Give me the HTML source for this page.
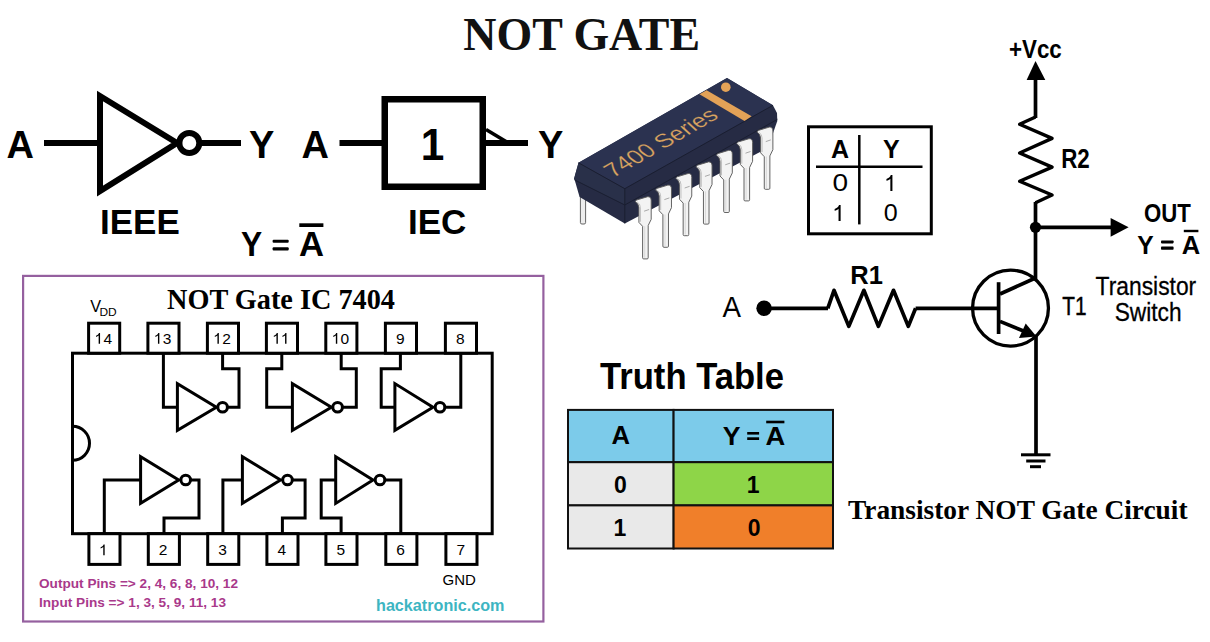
<!DOCTYPE html>
<html><head><meta charset="utf-8"><title>NOT Gate</title>
<style>
html,body{margin:0;padding:0;background:#fff;width:1210px;height:642px;overflow:hidden}
svg{display:block}
.s{font-family:"Liberation Sans",sans-serif}
.sf{font-family:"Liberation Serif",serif}
</style></head><body>
<svg width="1210" height="642" viewBox="0 0 1210 642">
<rect width="1210" height="642" fill="#fff"/>
<text class="sf" transform="translate(463.29,49.6) scale(1.0091,1)" font-size="45.5" font-weight="bold" fill="#111">NOT GATE</text>
<g stroke="#000" fill="none" stroke-width="6">
  <line x1="44" y1="143" x2="100" y2="143"/>
  <path d="M100,96 L100,191 L177,143 Z" stroke-linejoin="miter"/>
  <circle cx="189.3" cy="143" r="10"/>
  <line x1="199" y1="143" x2="241" y2="143"/>
</g>
<text class="s" x="6.5" y="157.5" font-size="38" font-weight="bold">A</text>
<text class="s" x="249" y="157.5" font-size="38" font-weight="bold">Y</text>
<text class="s" x="100" y="234" font-size="35" font-weight="bold">IEEE</text>
<g stroke="#000" fill="none">
  <line x1="339.5" y1="143" x2="385" y2="143" stroke-width="6"/>
  <rect x="384.75" y="99.25" width="98" height="87.5" stroke-width="6.5"/>
  <line x1="483" y1="143" x2="528" y2="143" stroke-width="6"/>
  <line x1="486" y1="129.5" x2="506" y2="141.5" stroke-width="3.6"/>
</g>
<text class="s" x="301.5" y="157.5" font-size="38" font-weight="bold">A</text>
<text class="s" x="538" y="157.5" font-size="38" font-weight="bold">Y</text>
<text class="s" transform="translate(420.84,159.9) scale(0.9524,1)" font-size="44.5" font-weight="bold">1</text>
<text class="s" x="408" y="234" font-size="35" font-weight="bold">IEC</text>
<text class="s" transform="translate(241.12,255.9) scale(0.8818,1)" font-size="36" font-weight="bold">Y</text>
<rect x="272.6" y="239.8" width="16.1" height="3" rx="1" fill="#000"/><rect x="272.6" y="247.3" width="16.1" height="3.1" rx="1" fill="#000"/>
<text class="s" transform="translate(298.94,255.9) scale(0.9625,1)" font-size="36" font-weight="bold">A</text>
<rect x="299.3" y="223.3" width="24.1" height="3.7" fill="#000"/>
<path d="M580.4,196 L585.6,196 L585.6,222.5 Q585.6,224 584.1,224 L581.9,224 Q580.4,224 580.4,222.5 Z" fill="#ededed" stroke="#555" stroke-width="0.9"/>
<path d="M578.5,162.8 L727,78 L772.9,105.3 L777,113 L777.3,121 L772,136 L760,152 L624.8,223.4 L579.6,197 L574.2,178.3 Z" fill="#262b44"/>
<path d="M578.5,162.8 L727,78 L772.9,105.3 L624.8,188.7 Z" fill="#2b3250"/>
<path d="M578.5,162.8 L624.8,188.7 L624.8,205 L574.6,179.9 L574.2,178.3 Z" fill="#293049"/>
<g fill="none" stroke="#1a1e30" stroke-width="1" stroke-linejoin="round"><path d="M574.6,179.9 L624.8,205 L777.3,119.4"/><path d="M578.5,162.8 L624.8,188.7 L772.9,105.3"/><path d="M624.8,188.7 L624.8,223.4"/></g>
<path d="M699.5,94.3 L706.6,90.2 L751.6,116.2 L744.5,121.1 Z" fill="#e3a257"/>
<circle cx="725.8" cy="87.2" r="4.8" fill="#e3a257"/>
<text font-family="Liberation Sans" font-size="23" fill="#dba560" stroke="#2c3250" stroke-width="0.2" transform="matrix(0.869,-0.494,0.743,0.669,613.2,177.9)">7400 Series</text>
<g transform="translate(648.60,196.70)"><path d="M-13.2,5 C-12.6,3.6 -12.2,3.2 -11.3,3.1 L-1,0 Q2.6,-0.3 2.6,3.9 L2.6,22.6 L-0.4,28.8 L-0.4,61.1 Q-0.4,62.2 -1.5,62.2 L-4.9,62.2 Q-6,62.2 -6,61.1 L-6,29.6 L-9.7,25.7 L-9.7,10.9 Q-10,7 -13.2,5 Z" fill="#f3f3f3" stroke="#5c5c5c" stroke-width="0.95"/><path d="M-11.5,5.2 Q-8.2,7 -8.2,11 L-8.2,25" fill="none" stroke="#9a9a9a" stroke-width="0.6"/><path d="M-4.5,14.5 L0.5,12.8" stroke="#888" stroke-width="0.7"/><path d="M-3.9,29.5 L-3.9,61" stroke="#c8c8c8" stroke-width="0.6"/></g>
<g transform="translate(668.88,185.10)"><path d="M-13.2,5 C-12.6,3.6 -12.2,3.2 -11.3,3.1 L-1,0 Q2.6,-0.3 2.6,3.9 L2.6,22.6 L-0.4,28.8 L-0.4,61.1 Q-0.4,62.2 -1.5,62.2 L-4.9,62.2 Q-6,62.2 -6,61.1 L-6,29.6 L-9.7,25.7 L-9.7,10.9 Q-10,7 -13.2,5 Z" fill="#f3f3f3" stroke="#5c5c5c" stroke-width="0.95"/><path d="M-11.5,5.2 Q-8.2,7 -8.2,11 L-8.2,25" fill="none" stroke="#9a9a9a" stroke-width="0.6"/><path d="M-4.5,14.5 L0.5,12.8" stroke="#888" stroke-width="0.7"/><path d="M-3.9,29.5 L-3.9,61" stroke="#c8c8c8" stroke-width="0.6"/></g>
<g transform="translate(689.16,173.50)"><path d="M-13.2,5 C-12.6,3.6 -12.2,3.2 -11.3,3.1 L-1,0 Q2.6,-0.3 2.6,3.9 L2.6,22.6 L-0.4,28.8 L-0.4,61.1 Q-0.4,62.2 -1.5,62.2 L-4.9,62.2 Q-6,62.2 -6,61.1 L-6,29.6 L-9.7,25.7 L-9.7,10.9 Q-10,7 -13.2,5 Z" fill="#f3f3f3" stroke="#5c5c5c" stroke-width="0.95"/><path d="M-11.5,5.2 Q-8.2,7 -8.2,11 L-8.2,25" fill="none" stroke="#9a9a9a" stroke-width="0.6"/><path d="M-4.5,14.5 L0.5,12.8" stroke="#888" stroke-width="0.7"/><path d="M-3.9,29.5 L-3.9,61" stroke="#c8c8c8" stroke-width="0.6"/></g>
<g transform="translate(709.44,161.90)"><path d="M-13.2,5 C-12.6,3.6 -12.2,3.2 -11.3,3.1 L-1,0 Q2.6,-0.3 2.6,3.9 L2.6,22.6 L-0.4,28.8 L-0.4,61.1 Q-0.4,62.2 -1.5,62.2 L-4.9,62.2 Q-6,62.2 -6,61.1 L-6,29.6 L-9.7,25.7 L-9.7,10.9 Q-10,7 -13.2,5 Z" fill="#f3f3f3" stroke="#5c5c5c" stroke-width="0.95"/><path d="M-11.5,5.2 Q-8.2,7 -8.2,11 L-8.2,25" fill="none" stroke="#9a9a9a" stroke-width="0.6"/><path d="M-4.5,14.5 L0.5,12.8" stroke="#888" stroke-width="0.7"/><path d="M-3.9,29.5 L-3.9,61" stroke="#c8c8c8" stroke-width="0.6"/></g>
<g transform="translate(729.72,150.30)"><path d="M-13.2,5 C-12.6,3.6 -12.2,3.2 -11.3,3.1 L-1,0 Q2.6,-0.3 2.6,3.9 L2.6,22.6 L-0.4,28.8 L-0.4,61.1 Q-0.4,62.2 -1.5,62.2 L-4.9,62.2 Q-6,62.2 -6,61.1 L-6,29.6 L-9.7,25.7 L-9.7,10.9 Q-10,7 -13.2,5 Z" fill="#f3f3f3" stroke="#5c5c5c" stroke-width="0.95"/><path d="M-11.5,5.2 Q-8.2,7 -8.2,11 L-8.2,25" fill="none" stroke="#9a9a9a" stroke-width="0.6"/><path d="M-4.5,14.5 L0.5,12.8" stroke="#888" stroke-width="0.7"/><path d="M-3.9,29.5 L-3.9,61" stroke="#c8c8c8" stroke-width="0.6"/></g>
<g transform="translate(750.00,138.70)"><path d="M-13.2,5 C-12.6,3.6 -12.2,3.2 -11.3,3.1 L-1,0 Q2.6,-0.3 2.6,3.9 L2.6,22.6 L-0.4,28.8 L-0.4,61.1 Q-0.4,62.2 -1.5,62.2 L-4.9,62.2 Q-6,62.2 -6,61.1 L-6,29.6 L-9.7,25.7 L-9.7,10.9 Q-10,7 -13.2,5 Z" fill="#f3f3f3" stroke="#5c5c5c" stroke-width="0.95"/><path d="M-11.5,5.2 Q-8.2,7 -8.2,11 L-8.2,25" fill="none" stroke="#9a9a9a" stroke-width="0.6"/><path d="M-4.5,14.5 L0.5,12.8" stroke="#888" stroke-width="0.7"/><path d="M-3.9,29.5 L-3.9,61" stroke="#c8c8c8" stroke-width="0.6"/></g>
<g transform="translate(770.28,127.10)"><path d="M-13.2,5 C-12.6,3.6 -12.2,3.2 -11.3,3.1 L-1,0 Q2.6,-0.3 2.6,3.9 L2.6,22.6 L-0.4,28.8 L-0.4,61.1 Q-0.4,62.2 -1.5,62.2 L-4.9,62.2 Q-6,62.2 -6,61.1 L-6,29.6 L-9.7,25.7 L-9.7,10.9 Q-10,7 -13.2,5 Z" fill="#f3f3f3" stroke="#5c5c5c" stroke-width="0.95"/><path d="M-11.5,5.2 Q-8.2,7 -8.2,11 L-8.2,25" fill="none" stroke="#9a9a9a" stroke-width="0.6"/><path d="M-4.5,14.5 L0.5,12.8" stroke="#888" stroke-width="0.7"/><path d="M-3.9,29.5 L-3.9,61" stroke="#c8c8c8" stroke-width="0.6"/></g>
<g stroke="#000" fill="none">
  <rect x="808.5" y="126.8" width="122.8" height="107" stroke-width="3"/>
  <line x1="859.3" y1="135" x2="859.3" y2="224.4" stroke-width="2.5"/>
  <line x1="816" y1="166.7" x2="922.5" y2="166.7" stroke-width="2.5"/>
</g>
<text class="s" x="831" y="158.4" font-size="25" font-weight="bold">A</text>
<text class="s" x="883" y="158.4" font-size="25" font-weight="bold">Y</text>
<text class="s" transform="translate(832.38,190.9) scale(1.2182,1)" font-size="23">0</text>
<path transform="translate(884.60,190.9) scale(23)" d="M0.25,0 L0.34,0 L0.34,-0.69 L0.27,-0.69 C0.24,-0.60 0.17,-0.55 0.08,-0.52 L0.08,-0.44 C0.15,-0.46 0.21,-0.49 0.25,-0.53 Z" fill="#000"/>
<path transform="translate(832.80,220.9) scale(23)" d="M0.25,0 L0.34,0 L0.34,-0.69 L0.27,-0.69 C0.24,-0.60 0.17,-0.55 0.08,-0.52 L0.08,-0.44 C0.15,-0.46 0.21,-0.49 0.25,-0.53 Z" fill="#000"/>
<text class="s" transform="translate(883.71,220.9) scale(1.0909,1)" font-size="23">0</text>
<g stroke="#000" fill="none" stroke-width="3.7" stroke-linejoin="miter">
  <line x1="1035.5" y1="78" x2="1035.5" y2="118"/>
  <polyline stroke-width="3.4" stroke-linejoin="round" points="1035.5,117 1019.6,124.2 1052.1,138.4 1019.6,153 1052.1,167.1 1019.6,181.3 1052.1,195 1035.5,202.7"/>
  <line x1="1035.5" y1="202" x2="1035.5" y2="279"/>
  <line x1="1035.5" y1="227.3" x2="1112" y2="227.3"/>
  <line x1="764" y1="308.3" x2="828" y2="308.3"/>
  <polyline stroke-linejoin="round" points="827.8,308.3 834,290.3 848.8,326.4 863.9,290.3 878.4,326.4 893.5,290.3 908.3,326.4 915.6,308.3"/>
  <line x1="915.6" y1="308.3" x2="998" y2="308.3"/>
  <circle cx="1010.5" cy="308.1" r="37.95" stroke-width="3.3"/>
  <line x1="998.6" y1="282.2" x2="998.6" y2="334" stroke-width="3.7"/>
  <line x1="1000" y1="294" x2="1036" y2="277.8"/>
  <line x1="1000" y1="321.4" x2="1028" y2="332.8"/>
  <line x1="1036" y1="336" x2="1036" y2="455"/>
  <line x1="1021" y1="454.8" x2="1050.5" y2="454.8" stroke-width="3"/>
  <line x1="1026.2" y1="461" x2="1045.5" y2="461" stroke-width="3"/>
  <line x1="1030" y1="466.7" x2="1041" y2="466.7" stroke-width="3"/>
</g>
<path d="M1035.5,61 L1045.3,80 L1026.6,80 Z" fill="#000"/>
<path d="M1128.6,227.3 L1110.6,236.7 L1110.6,218 Z" fill="#000"/>
<path d="M1036.5,336.4 L1019,337.9 L1025.7,323.4 Z" fill="#000"/>
<circle cx="1035.5" cy="227.3" r="5.6" fill="#000"/>
<circle cx="764.1" cy="308.3" r="7.75" fill="#000"/>
<text class="s" transform="translate(1008.91,57.6) scale(0.8947,1)" font-size="25" font-weight="bold">+Vcc</text>
<text class="s" transform="translate(1061.24,168.1) scale(0.8281,1)" font-size="27" font-weight="bold">R2</text>
<text class="s" transform="translate(1143.95,221.5) scale(0.8537,1)" font-size="26" font-weight="bold">OUT</text>
<text class="s" transform="translate(1137.25,253.5) scale(0.9500,1)" font-size="26" font-weight="bold">Y</text>
<rect x="1161" y="240.5" width="12.6" height="2.9" rx="0.8" fill="#000"/><rect x="1161" y="246.6" width="12.6" height="3.1" rx="0.8" fill="#000"/>
<text class="s" transform="translate(1181.82,253.5) scale(0.9824,1)" font-size="26" font-weight="bold">A</text>
<rect x="1183.8" y="229.8" width="14.6" height="2.4" fill="#000"/>
<text class="s" transform="translate(722.50,316.9) scale(0.9250,1)" font-size="30">A</text>
<text class="s" transform="translate(850.36,283.9) scale(1.0207,1)" font-size="25" font-weight="bold">R1</text>
<text class="s" transform="translate(1062.20,314.6) scale(0.8000,1)" font-size="26" stroke="#000" stroke-width="0.45">T1</text>
<text class="s" transform="translate(1095.62,294.5) scale(0.8779,1)" font-size="26" stroke="#000" stroke-width="0.3">Transistor</text>
<text class="s" transform="translate(1114.65,320.5) scale(0.8740,1)" font-size="26" stroke="#000" stroke-width="0.3">Switch</text>
<text class="sf" x="848" y="518.7" font-size="27.4" font-weight="bold">Transistor NOT Gate Circuit</text>
<text class="s" x="600" y="389.3" font-size="36" font-weight="bold" textLength="184" lengthAdjust="spacingAndGlyphs">Truth Table</text>
<g stroke="#111" stroke-width="2">
  <rect x="568" y="409.9" width="105.6" height="52.3" fill="#7ccbea"/>
  <rect x="673.6" y="409.9" width="159.4" height="52.3" fill="#7ccbea"/>
  <rect x="568" y="462.2" width="105.6" height="43.2" fill="#e9e9e9"/>
  <rect x="673.6" y="462.2" width="159.4" height="43.2" fill="#8ed548"/>
  <rect x="568" y="505.4" width="105.6" height="43.1" fill="#e9e9e9"/>
  <rect x="673.6" y="505.4" width="159.4" height="43.1" fill="#f07f2a"/>
</g>
<text class="s" x="611.4" y="444.4" font-size="25" font-weight="bold" textLength="18.5" lengthAdjust="spacingAndGlyphs">A</text>
<text class="s" transform="translate(722.63,444.5) scale(1.0667,1)" font-size="25" font-weight="bold">Y</text>
<rect x="747.2" y="432" width="11.9" height="2.6" fill="#000"/><rect x="747.2" y="437.3" width="11.9" height="2.7" fill="#000"/>
<text class="s" transform="translate(765.41,444.5) scale(1.0938,1)" font-size="25" font-weight="bold">A</text>
<rect x="766.2" y="420.7" width="18.2" height="2.6" fill="#000"/>
<text class="s" x="613.9" y="492.6" font-size="23" font-weight="bold">0</text>
<text class="s" x="746.8" y="492.6" font-size="23" font-weight="bold">1</text>
<text class="s" x="613.4" y="536" font-size="23" font-weight="bold">1</text>
<text class="s" x="747.8" y="536" font-size="23" font-weight="bold">0</text>
<rect x="23.1" y="275.9" width="520.3" height="345.6" fill="none" stroke="#95609f" stroke-width="2.2"/>
<text class="sf" x="167" y="309.3" font-size="30" font-weight="bold" textLength="228" lengthAdjust="spacingAndGlyphs">NOT Gate IC 7404</text>
<text class="s" x="90.3" y="311.6" font-size="16.3">V</text>
<text class="s" transform="translate(99.49,315.6) scale(1.0125,1)" font-size="11.8">DD</text>
<g stroke="#000" fill="none" stroke-width="3"><rect x="72.5" y="353.2" width="419.7" height="180.5"/><path d="M72.5,426.3 A17,17 0 0 1 72.5,460.3"/></g>
<g stroke="#000" fill="#fff" stroke-width="3">
<rect x="88.6" y="323.2" width="31.1" height="30"/>
<rect x="147.9" y="323.2" width="31.1" height="30"/>
<rect x="207.4" y="323.2" width="31.1" height="30"/>
<rect x="266.4" y="323.2" width="31.1" height="30"/>
<rect x="325.8" y="323.2" width="31.1" height="30"/>
<rect x="385.4" y="323.2" width="31.1" height="30"/>
<rect x="445.4" y="323.2" width="31.1" height="30"/>
<rect x="88.9" y="533.7" width="31.1" height="30.7"/>
<rect x="148.3" y="533.7" width="31.1" height="30.7"/>
<rect x="207.7" y="533.7" width="31.1" height="30.7"/>
<rect x="266.9" y="533.7" width="31.1" height="30.7"/>
<rect x="325.9" y="533.7" width="31.1" height="30.7"/>
<rect x="385.8" y="533.7" width="31.1" height="30.7"/>
<rect x="445.9" y="533.7" width="31.1" height="30.7"/>
</g>
<path transform="translate(94.78,343.8) scale(15.5)" d="M0.25,0 L0.34,0 L0.34,-0.69 L0.27,-0.69 C0.24,-0.60 0.17,-0.55 0.08,-0.52 L0.08,-0.44 C0.15,-0.46 0.21,-0.49 0.25,-0.53 Z" fill="#000"/><text class="s" x="103.40" y="343.8" font-size="15.5" fill="#000">4</text>
<path transform="translate(154.08,343.8) scale(15.5)" d="M0.25,0 L0.34,0 L0.34,-0.69 L0.27,-0.69 C0.24,-0.60 0.17,-0.55 0.08,-0.52 L0.08,-0.44 C0.15,-0.46 0.21,-0.49 0.25,-0.53 Z" fill="#000"/><text class="s" x="162.70" y="343.8" font-size="15.5" fill="#000">3</text>
<path transform="translate(213.58,343.8) scale(15.5)" d="M0.25,0 L0.34,0 L0.34,-0.69 L0.27,-0.69 C0.24,-0.60 0.17,-0.55 0.08,-0.52 L0.08,-0.44 C0.15,-0.46 0.21,-0.49 0.25,-0.53 Z" fill="#000"/><text class="s" x="222.20" y="343.8" font-size="15.5" fill="#000">2</text>
<path transform="translate(272.58,343.8) scale(15.5)" d="M0.25,0 L0.34,0 L0.34,-0.69 L0.27,-0.69 C0.24,-0.60 0.17,-0.55 0.08,-0.52 L0.08,-0.44 C0.15,-0.46 0.21,-0.49 0.25,-0.53 Z" fill="#000"/><path transform="translate(281.20,343.8) scale(15.5)" d="M0.25,0 L0.34,0 L0.34,-0.69 L0.27,-0.69 C0.24,-0.60 0.17,-0.55 0.08,-0.52 L0.08,-0.44 C0.15,-0.46 0.21,-0.49 0.25,-0.53 Z" fill="#000"/>
<path transform="translate(331.98,343.8) scale(15.5)" d="M0.25,0 L0.34,0 L0.34,-0.69 L0.27,-0.69 C0.24,-0.60 0.17,-0.55 0.08,-0.52 L0.08,-0.44 C0.15,-0.46 0.21,-0.49 0.25,-0.53 Z" fill="#000"/><text class="s" x="340.60" y="343.8" font-size="15.5" fill="#000">0</text>
<text class="s" x="395.89" y="343.8" font-size="15.5" fill="#000">9</text>
<text class="s" x="455.89" y="343.8" font-size="15.5" fill="#000">8</text>
<path transform="translate(99.39,555.3) scale(15.5)" d="M0.25,0 L0.34,0 L0.34,-0.69 L0.27,-0.69 C0.24,-0.60 0.17,-0.55 0.08,-0.52 L0.08,-0.44 C0.15,-0.46 0.21,-0.49 0.25,-0.53 Z" fill="#000"/>
<text class="s" x="158.79" y="555.3" font-size="15.5" fill="#000">2</text>
<text class="s" x="218.19" y="555.3" font-size="15.5" fill="#000">3</text>
<text class="s" x="277.39" y="555.3" font-size="15.5" fill="#000">4</text>
<text class="s" x="336.39" y="555.3" font-size="15.5" fill="#000">5</text>
<text class="s" x="396.29" y="555.3" font-size="15.5" fill="#000">6</text>
<text class="s" x="456.39" y="555.3" font-size="15.5" fill="#000">7</text>
<g stroke="#000" fill="none" stroke-width="3" stroke-linejoin="miter"><polyline points="163.4,353 163.4,407.3 177.4,407.3"/>
<path d="M177.4,383.6 L177.4,430.4 L216.4,407.3 Z"/>
<circle cx="222.6" cy="407.3" r="4.8"/>
<polyline points="227.4,407.3 239,407.3 239,368.8 222.6,368.8 222.6,353"/>
<polyline points="281.8,353 281.8,368.8 266.7,368.8 266.7,407.3 292.4,407.3"/>
<path d="M292.4,383.6 L292.4,430.4 L331.4,407.3 Z"/>
<circle cx="337.6" cy="407.3" r="4.8"/>
<polyline points="342.4,407.3 356.3,407.3 356.3,368.8 341.2,368.8 341.2,353"/>
<polyline points="400.4,353 400.4,368.8 381.2,368.8 381.2,407.3 394.9,407.3"/>
<path d="M394.9,383.6 L394.9,430.3 L433,407.3 Z"/>
<circle cx="440" cy="407.3" r="4.8"/>
<polyline points="444.8,407.3 460.8,407.3 460.8,353"/>
<polyline points="104.3,533.7 104.3,480 140.6,480"/>
<path d="M140.6,456.7 L140.6,503.4 L178.7,480 Z"/>
<circle cx="185.7" cy="480" r="4.8"/>
<polyline points="190.5,480 199,480 199,517.9 164,517.9 164,533.7"/>
<polyline points="222.9,533.7 222.9,480 242.4,480"/>
<path d="M242.4,456.7 L242.4,503.4 L280.5,480 Z"/>
<circle cx="287.5" cy="480" r="4.8"/>
<polyline points="292.3,480 305.1,480 305.1,517.9 282.4,517.9 282.4,533.7"/>
<polyline points="341.1,533.7 341.1,517.9 321.2,517.9 321.2,480 335.7,480"/>
<path d="M335.7,456.7 L335.7,503.4 L373,480 Z"/>
<circle cx="380" cy="480" r="4.8"/>
<polyline points="384.8,480 400.8,480 400.8,533.7"/></g>
<text class="s" x="39" y="588.2" font-size="13.5" font-weight="bold" fill="#a9398b" textLength="199" lengthAdjust="spacingAndGlyphs">Output Pins =&gt; 2, 4, 6, 8, 10, 12</text>
<text class="s" x="39" y="607.1" font-size="13.5" font-weight="bold" fill="#a9398b" textLength="187" lengthAdjust="spacingAndGlyphs">Input Pins =&gt; 1, 3, 5, 9, 11, 13</text>
<text class="s" x="442.5" y="584.5" font-size="15">GND</text>
<text class="s" x="376" y="611" font-size="17" font-weight="bold" fill="#3db5c2" textLength="128.5" lengthAdjust="spacingAndGlyphs">hackatronic.com</text>
</svg>
</body></html>
